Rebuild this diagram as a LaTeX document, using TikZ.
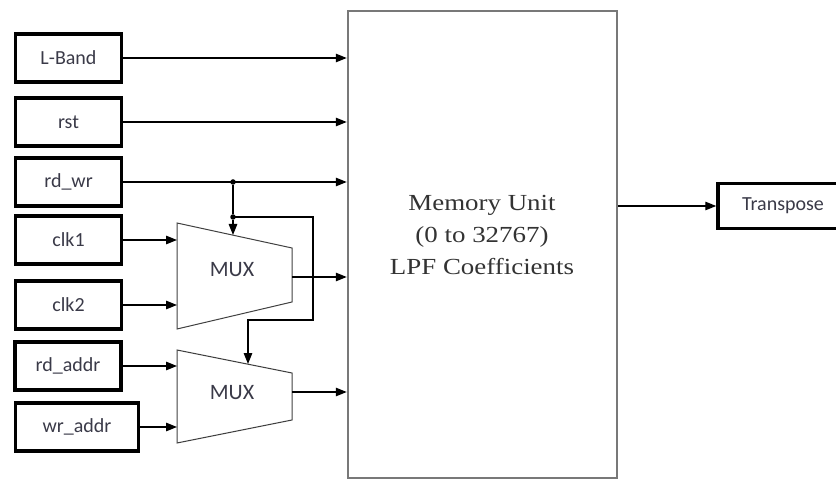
\documentclass[tikz,border=0pt]{standalone}
\usepackage{fontspec}
\setmainfont{Carlito}
\newfontfamily\memfont[FakeStretch=1.17]{Liberation Serif}
\usetikzlibrary{arrows.meta}
\definecolor{txtgray}{RGB}{58,58,72}
\definecolor{boxgray}{RGB}{120,120,120}

\begin{document}
\begin{tikzpicture}[x=1pt, y=-1pt, >={Triangle[length=11pt, width=8.5pt]},
  inbox/.style={draw, line width=3.5pt, minimum width=106pt, minimum height=48pt,
    inner sep=0pt, text=txtgray, font=\fontsize{20}{24}\selectfont},
  wire/.style={line width=1.3pt},
  muxbody/.style={draw=black!75, line width=1pt},
  muxlabel/.style={text=txtgray, font=\fontsize{22}{26}\selectfont},
  dot/.style={circle, fill, inner sep=0pt, minimum size=5.5pt}]
  \useasboundingbox (0,0) rectangle (836,481);

  % Input boxes
  \node[inbox] (lband) at (68.5, 58) {L-Band};
  \node[inbox] (rst) at (68.5, 122) {rst};
  \node[inbox] (rdwr) at (68.5, 182) {rd\_wr};
  \node[inbox] (clkone) at (68.5, 240) {clk1};
  \node[inbox] (clktwo) at (68.5, 305) {clk2};
  \node[inbox] (rdaddr) at (68, 366) {rd\_addr};
  \node[inbox, minimum width=123pt] (wraddr) at (77, 427) {wr\_addr};

  % Memory unit
  \node[draw=boxgray, line width=2.5pt, minimum width=269pt, minimum height=467pt] (mem) at (482.5, 244.5) {};
  \node[align=center, text=black!80, font=\memfont\fontsize{23}{32}\selectfont] (memlbl) at (482, 235)
    {Memory Unit\\(0 to 32767)\\LPF Coefficients};

  % Output box, cut by the page edge
  \node[inbox, minimum width=130pt, minimum height=45pt] (trans) at (783, 206) {Transpose};

  % Upper MUX
  \coordinate (m1nw) at (177, 223);
  \coordinate (m1ne) at (292, 248);
  \coordinate (m1se) at (292, 302);
  \coordinate (m1sw) at (177, 329);
  \draw[muxbody] (m1nw) -- (m1ne) -- (m1se) -- (m1sw) -- cycle;
  \node[muxlabel] (muxa) at (232, 270) {MUX};

  % Lower MUX
  \coordinate (m2nw) at (177, 350);
  \coordinate (m2ne) at (292, 373);
  \coordinate (m2se) at (292, 420);
  \coordinate (m2sw) at (177, 443);
  \draw[muxbody] (m2nw) -- (m2ne) -- (m2se) -- (m2sw) -- cycle;
  \node[muxlabel] (muxb) at (232, 393) {MUX};

  % Wires into the memory unit
  \foreach \src in {lband, rst, rdwr}
    \draw[wire, ->] (\src.east) -- (\src.east -| mem.west);
  \coordinate (m1out) at (292, 277);
  \coordinate (m2out) at (292, 392);
  \draw[wire, ->] (m1out) -- (m1out -| mem.west);
  \draw[wire, ->] (m2out) -- (m2out -| mem.west);

  % Wires into the MUXes
  \foreach \src in {clkone, clktwo}
    \draw[wire, ->] (\src.east) -- (\src.east -| m1nw);
  \foreach \src in {rdaddr, wraddr}
    \draw[wire, ->] (\src.east) -- (\src.east -| m2nw);

  % Select line taken from rd_wr
  \node[dot] (tapa) at (233, 182) {};
  \node[dot] (tapb) at (233, 217) {};
  \coordinate (sela) at (233, 235);
  \coordinate (loopr) at (313, 320);
  \coordinate (selb) at (248, 364);
  \draw[wire] (tapa) -- (tapb);
  \draw[wire, ->] (tapb) -- (sela);
  \draw[wire, ->] (tapb.center) -| (loopr) -| (selb);

  % Output
  \draw[wire, ->] (trans.west -| mem.east) -- (trans.west);
\end{tikzpicture}
\end{document}
